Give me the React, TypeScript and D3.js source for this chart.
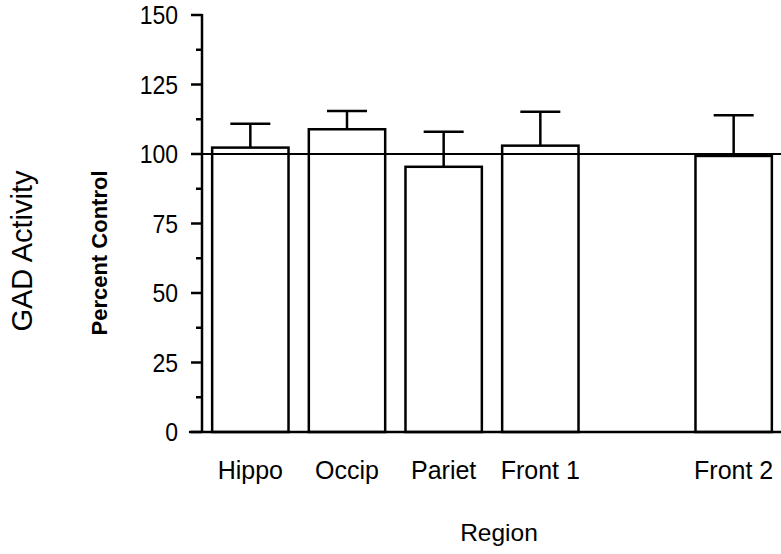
import React from "react";
import { scaleBand, scaleLinear, range } from "d3";

// GAD activity by region, percent of control
const regions = ["Hippo", "Occip", "Pariet", "Front 1", "Front 2"];
const slots = ["Hippo", "Occip", "Pariet", "Front 1", "", "Front 2"]; // one empty slot before Front 2
const means = [102.3, 108.9, 95.4, 103, 99.3];
const errors = [8.6, 6.6, 12.6, 12.2, 14.6];
const yTicks = [0, 25, 50, 75, 100, 125, 150];
const controlLevel = 100;

const W = 781;
const H = 554;
const font = "'Liberation Sans', Arial, Helvetica, sans-serif";

export default function App() {
  const x = scaleBand<string>()
    .domain(slots.map((s, i) => s || "gap" + i))
    .range([202, 782])
    .paddingInner(0.21)
    .paddingOuter(0.105);

  const y = scaleLinear().domain([0, 150]).range([432, 15]);
  const minorTicks = range(12.5, 150, 25);

  const capW = 40;
  const axisX = 202;
  const baseY = y(0);

  return (
    <svg width={W} height={H} style={{ position: "absolute", left: 0, top: 0 }}>
      <rect width={W} height={H} fill="#fff" />

      {/* bars */}
      {regions.map((r, i) => {
        const bx = x(r)!;
        const bw = x.bandwidth();
        const cx = bx + bw / 2;
        return (
          <g key={r}>
            <line x1={cx} x2={cx} y1={y(means[i])} y2={y(means[i] + errors[i])} stroke="#000" strokeWidth={2.5} />
            <line x1={cx - capW / 2} x2={cx + capW / 2} y1={y(means[i] + errors[i])} y2={y(means[i] + errors[i])} stroke="#000" strokeWidth={2.5} />
            <rect x={bx} y={y(means[i])} width={bw} height={baseY - y(means[i])} fill="#fff" stroke="#000" strokeWidth={2.5} />
          </g>
        );
      })}

      {/* 100% line */}
      <line x1={axisX} x2={W} y1={y(controlLevel)} y2={y(controlLevel)} stroke="#000" strokeWidth={2} />

      {/* y axis */}
      <line x1={axisX} x2={axisX} y1={y(150) - 1} y2={baseY} stroke="#000" strokeWidth={2.5} />
      {yTicks.map((t) => (
        <g key={t}>
          <line x1={axisX - 11} x2={axisX} y1={y(t)} y2={y(t)} stroke="#000" strokeWidth={2.5} />
          <text
            transform={`translate(178,${y(t) + 9}) scale(1,1.15)`}
            textAnchor="end"
            fontFamily={font}
            fontSize={23}
          >
            {t}
          </text>
        </g>
      ))}
      {minorTicks.map((t) => (
        <line key={t} x1={axisX - 6} x2={axisX} y1={y(t)} y2={y(t)} stroke="#000" strokeWidth={2.5} />
      ))}

      {/* x axis */}
      <line x1={189} x2={W} y1={baseY} y2={baseY} stroke="#000" strokeWidth={2.5} />
      {regions.map((r) => (
        <text key={r} x={x(r)! + x.bandwidth() / 2} y={479} textAnchor="middle" fontFamily={font} fontSize={25}>
          {r}
        </text>
      ))}

      <text x={499} y={541} textAnchor="middle" fontFamily={font} fontSize={24.5}>
        Region
      </text>
      <text transform="translate(32,251) rotate(-90)" textAnchor="middle" fontFamily={font} fontSize={29}>
        GAD Activity
      </text>
      <text transform="translate(107,253) rotate(-90)" textAnchor="middle" fontFamily={font} fontSize={22} fontWeight="bold">
        Percent Control
      </text>
    </svg>
  );
}
